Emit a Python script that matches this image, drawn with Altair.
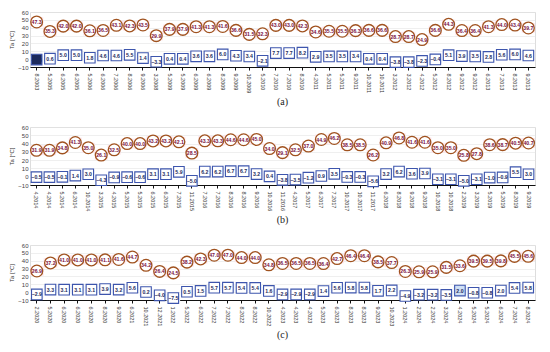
import altair as alt
import pandas as pd

# ---------------- data ----------------
labels_a = ["8.2003", "5.2005", "6.2005", "6.2005", "5.2006", "6.2006", "7.2006", "8.2006", "9.2006",
            "3.2008", "5.2009", "5.2009", "6.2009", "6.2009", "8.2009", "9.2009", "10.2009", "5.2010",
            "7.2010", "7.2010", "8.2010", "4.2011", "5.2011", "5.2011", "9.2011", "10.2011", "10.2011",
            "3.2012", "3.2012", "4.2012", "5.2012", "8.2012", "9.2012", "9.2012", "6.2013", "7.2013",
            "8.2013", "9.2013"]
tmax_a = [47.3, 35.3, 42.0, 42.0, 36.1, 36.5, 43.1, 42.3, 43.5, 29.9, 37.9, 37.9, 41.3, 41.3, 41.6,
          36.6, 31.5, 32.3, 43.0, 43.0, 42.3, 34.6, 35.5, 35.5, 36.3, 36.6, 36.6, 28.7, 28.7, 24.9,
          36.6, 44.3, 36.4, 36.4, 41.3, 44.0, 43.4, 39.7]
tmin_a = [-0.6, 0.6, 5.0, 5.0, 1.8, 4.6, 4.6, 5.5, 1.4, -3.3, 0.4, 0.4, 3.6, 3.6, 6.0, 4.3, 3.4, -2.1,
          7.7, 7.7, 8.2, 2.9, 3.5, 3.5, 3.4, 0.4, 0.4, -3.8, -3.8, -2.3, -0.4, 5.1, 3.9, 3.5, 2.8, 5.6,
          6.0, 4.6]
fill_a = ["#1c2a5c"] + ["white"] * 37

labels_b = ["4.2014", "4.2014", "5.2014", "6.2014", "10.2014", "3.2015", "4.2015", "5.2015", "5.2015",
            "6.2015", "6.2015", "7.2015", "11.2015", "7.2016", "7.2016", "8.2016", "8.2016", "9.2016",
            "10.2016", "11.2016", "4.2017", "5.2017", "6.2017", "7.2017", "10.2017", "10.2017", "11.2017",
            "6.2018", "8.2018", "9.2018", "9.2018", "10.2018", "10.2018", "2.2019", "3.2019", "5.2019",
            "5.2019", "8.2019", "9.2019"]
tmax_b = [31.9, 31.9, 34.8, 41.3, 35.0, 26.1, 32.5, 40.0, 40.0, 43.2, 43.2, 42.1, 28.5, 43.3, 43.3,
          44.6, 44.6, 45.0, 34.0, 29.1, 32.5, 37.0, 44.9, 46.2, 38.5, 38.5, 26.2, 40.9, 46.8, 41.6,
          41.6, 35.0, 35.0, 25.8, 27.8, 38.6, 38.7, 40.5, 40.7]
tmin_b = [-0.5, -0.5, -0.1, 1.4, 3.0, -4.3, -0.9, -0.6, -0.6, 3.1, 3.1, 5.9, -5.0, 6.2, 6.2, 6.7, 6.7,
          3.2, 0.4, -3.8, -3.5, -1.2, 0.9, 3.5, -0.3, -0.3, -5.6, 3.2, 6.2, 3.6, 3.9, -3.1, -3.1, -5.0,
          -3.1, -1.0, -0.9, 5.5, 3.0]
fill_b = ["white"] * 39

labels_c = ["2.2020", "5.2020", "6.2020", "6.2020", "6.2020", "8.2020", "9.2020", "6.2021", "10.2021",
            "12.2021", "1.2022", "5.2022", "6.2022", "7.2022", "7.2022", "8.2022", "8.2022", "10.2022",
            "4.2023", "4.2023", "4.2023", "5.2023", "6.2023", "8.2023", "8.2023", "9.2023", "10.2023",
            "1.2024", "2.2024", "2.2024", "3.2024", "4.2024", "5.2024", "5.2024", "6.2024", "7.2024",
            "8.2024"]
tmax_c = [26.9, 37.2, 41.0, 41.0, 41.0, 41.1, 41.6, 44.7, 34.2, 26.4, 24.5, 38.2, 42.3, 47.0, 47.0,
          44.0, 44.0, 34.8, 36.5, 36.5, 36.5, 36.4, 42.7, 46.4, 46.4, 38.5, 37.7, 26.3, 25.9, 25.9,
          31.5, 33.6, 39.5, 39.5, 39.8, 45.5, 45.6]
tmin_c = [-2.9, 3.3, 3.1, 3.1, 3.1, 3.9, 3.2, 5.6, 0.2, -4.0, -7.5, 0.5, 1.5, 5.7, 5.7, 5.4, 5.4, 1.6,
          -2.9, -2.9, -2.9, 1.4, 5.6, 5.8, 5.8, 1.7, 2.2, -4.9, -3.2, -3.2, -3.5, 2.0, -0.8, -0.8, 2.0,
          5.4, 5.8]
fill_c = ["white"] * 31 + ["#cfe0f5"] + ["white"] * 5

y_ticks = [-10, 0, 10, 20, 30, 40, 50, 60]

PLOT_W = 505
FONT = "Liberation Sans"


def panel(labels, tmax, tmin, fills, caption, height):
    df = pd.DataFrame({"i": list(range(len(labels))), "tmax": tmax, "tmin": tmin, "fill": fills})
    label_expr = "[" + ",".join("'" + s + "'" for s in labels) + "][datum.value]"
    x = alt.X(
        "i:O",
        scale=alt.Scale(paddingInner=0, paddingOuter=0),
        axis=alt.Axis(
            title=None, labelExpr=label_expr, labelAngle=90, labelFontSize=5.5,
            labelColor="#333", labelFont=FONT, labelPadding=3, ticks=True, tickSize=3,
            tickColor="#111", domainColor="#111", domainWidth=1, grid=False,
            labelOverlap=False,
        ),
    )
    yscale = alt.Scale(domain=[-10, 60], nice=False, zero=False)

    def yaxis():
        return alt.Axis(
            values=y_ticks, title="Ta [°C]", titleFontSize=6,
            titleFont=FONT, titleFontWeight="normal", titleColor="#333", titlePadding=3,
            labelFontSize=6, labelFont=FONT, labelColor="#444", ticks=False, domain=False,
            grid=True, gridColor="#e4e4e4", gridWidth=0.6, labelPadding=2,
            labelOverlap=False, labelFlush=False,
        )

    base = alt.Chart(df)

    band_max = base.transform_calculate(lo="datum.tmax - 6", hi="datum.tmax + 6").mark_bar(
        color="#fde6ec"
    ).encode(x=x, y=alt.Y("lo:Q", scale=yscale, axis=yaxis()), y2="hi:Q")

    band_min = base.transform_calculate(lo="datum.tmin - 5", hi="datum.tmin + 5").mark_bar(
        color="#f0f5fb"
    ).encode(x=x, y=alt.Y("lo:Q", scale=yscale, axis=yaxis()), y2="hi:Q")

    circles = base.mark_point(
        shape="circle", filled=True, fill="white", stroke="#a0521f", strokeWidth=1.3,
        size=138, opacity=1,
    ).encode(x=x, y=alt.Y("tmax:Q", scale=yscale, axis=yaxis()))

    circ_text = base.mark_text(fontSize=5.2, font=FONT, color="#7a1040", fontWeight="bold").encode(
        x=x, y=alt.Y("tmax:Q", scale=yscale, axis=yaxis()), text=alt.Text("tmax:Q", format=".1f")
    )

    squares = base.mark_point(
        shape="square", filled=True, stroke="#3d55ad", strokeWidth=1.1, size=112, opacity=1,
    ).encode(x=x, y=alt.Y("tmin:Q", scale=yscale, axis=yaxis()), fill=alt.Fill("fill:N", scale=None))

    sq_text = base.mark_text(fontSize=5.2, font=FONT, color="#1c2a5c", fontWeight="bold").encode(
        x=x, y=alt.Y("tmin:Q", scale=yscale, axis=yaxis()), text=alt.Text("tmin:Q", format=".1f")
    )

    return alt.layer(band_max, band_min, circles, circ_text, squares, sq_text).properties(
        width=PLOT_W,
        height=height,
        title=alt.TitleParams(
            caption, orient="bottom", font="Liberation Serif", fontSize=10,
            fontWeight="normal", color="#222", offset=4, anchor="middle",
        ),
    )


chart = alt.vconcat(
    panel(labels_a, tmax_a, tmin_a, fill_a, "(a)", 55),
    panel(labels_b, tmax_b, tmin_b, fill_b, "(b)", 58),
    panel(labels_c, tmax_c, tmin_c, fill_c, "(c)", 55),
    spacing=15,
).configure_view(stroke="#d8d8d8", strokeWidth=0.8).configure(padding=0, background="white")

chart.save("out.html", embed_options={"renderer": "svg", "actions": False})
